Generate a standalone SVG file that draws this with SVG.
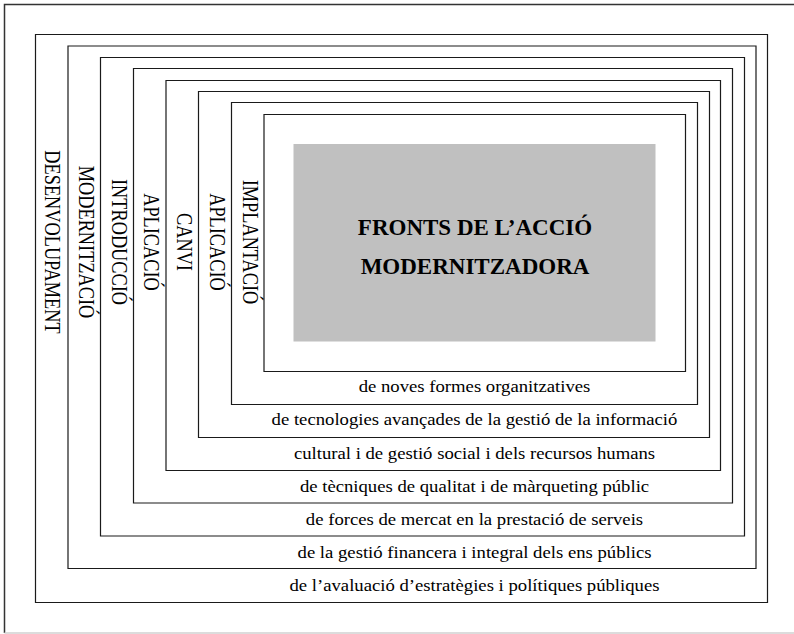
<svg xmlns="http://www.w3.org/2000/svg" width="794" height="634" viewBox="0 0 794 634">
<style>
.frame{fill:none;stroke:#1a1a1a;stroke-width:1.2}
.vt{font-family:"Liberation Serif","Times New Roman",serif;font-size:22.7px;fill:#000;text-anchor:middle}
.ht{font-family:"Liberation Serif","Times New Roman",serif;font-size:17px;fill:#000;text-anchor:middle}
.title{font-family:"Liberation Serif","Times New Roman",serif;font-size:23px;font-weight:bold;fill:#000;text-anchor:middle}
</style>
<rect x="0" y="0" width="794" height="634" fill="#fff"/>
<g id="page-frame">
<path d="M4.5,633 V4.5 H794" fill="none" stroke="#333" stroke-width="1.5"/>
<path d="M4.5,633 H794" fill="none" stroke="#d0d0d0" stroke-width="1.5"/>
</g>
<g id="desenvolupament">
<path class="frame" d="M35.5,34.5 H767.5 V602.5 H35.5 Z"/>
<text class="vt" transform="translate(45,242) rotate(90) scale(0.806,1)">DESENVOLUPAMENT</text>
<text class="ht" transform="translate(474.5,590.5) scale(1.1,1)">de l’avaluació d’estratègies i polítiques públiques</text>
</g>
<g id="modernitzacio">
<path class="frame" d="M68,46 H756 V568.5 H68 Z"/>
<text class="vt" transform="translate(78.5,242) rotate(90) scale(0.806,1)">MODERNITZACIÓ</text>
<text class="ht" transform="translate(474.5,557.5) scale(1.1,1)">de la gestió financera i integral dels ens públics</text>
</g>
<g id="introduccio">
<path class="frame" d="M100.5,57.5 H744.5 V536 H100.5 Z"/>
<text class="vt" transform="translate(111.5,242) rotate(90) scale(0.806,1)">INTRODUCCIÓ</text>
<text class="ht" transform="translate(474.5,524.5) scale(1.1,1)">de forces de mercat en la prestació de serveis</text>
</g>
<g id="aplicacio-1">
<path class="frame" d="M133.5,68.5 H732.5 V503 H133.5 Z"/>
<text class="vt" transform="translate(144.3,242) rotate(90) scale(0.806,1)">APLICACIÓ</text>
<text class="ht" transform="translate(474.5,491.5) scale(1.1,1)">de tècniques de qualitat i de màrqueting públic</text>
</g>
<g id="canvi">
<path class="frame" d="M166,80.5 H720.5 V470.5 H166 Z"/>
<text class="vt" transform="translate(177,242) rotate(90) scale(0.806,1)">CANVI</text>
<text class="ht" transform="translate(474.5,458.5) scale(1.1,1)">cultural i de gestió social i dels recursos humans</text>
</g>
<g id="aplicacio-2">
<path class="frame" d="M198.5,91.5 H709.5 V437.5 H198.5 Z"/>
<text class="vt" transform="translate(210,242) rotate(90) scale(0.806,1)">APLICACIÓ</text>
<text class="ht" transform="translate(474.5,424.8) scale(1.1,1)">de tecnologies avançades de la gestió de la informació</text>
</g>
<g id="implantacio">
<path class="frame" d="M231.5,102.5 H697.5 V404.5 H231.5 Z"/>
<text class="vt" transform="translate(242.8,242) rotate(90) scale(0.806,1)">IMPLANTACIÓ</text>
<text class="ht" transform="translate(474.5,391.5) scale(1.1,1)">de noves formes organitzatives</text>
</g>
<g id="fronts">
<path class="frame" d="M264,114.5 H685.5 V371.5 H264 Z"/>
<rect x="293.5" y="144" width="362" height="197.5" fill="#c0c0c0"/>
<text class="title" x="475" y="234.5">FRONTS DE L’ACCIÓ</text>
<text class="title" x="475" y="273.5">MODERNITZADORA</text>
</g>
<g id="connectors"></g>
</svg>
